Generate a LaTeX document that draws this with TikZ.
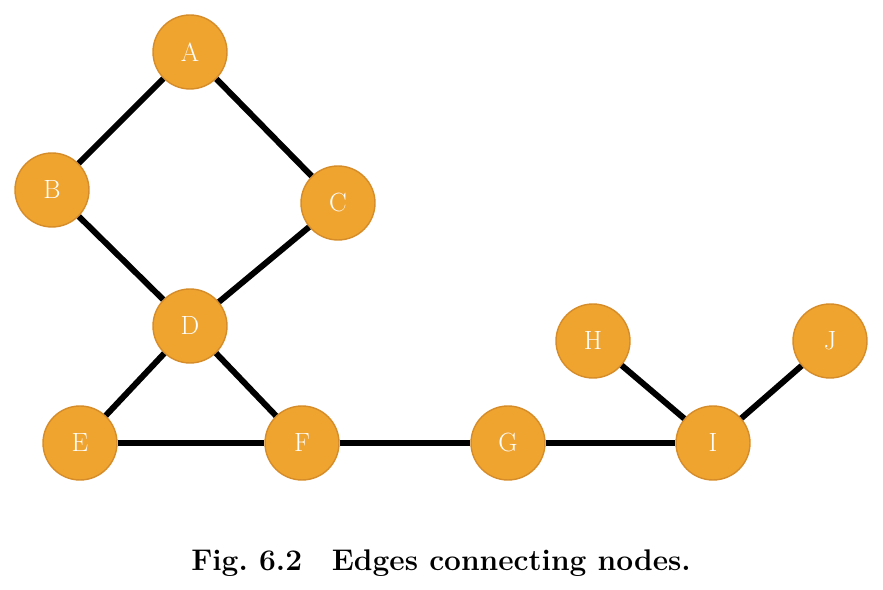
\documentclass[tikz,border=0pt]{standalone}
\usetikzlibrary{positioning}
\definecolor{nodeorange}{RGB}{240,164,48}
\definecolor{rimorange}{RGB}{214,140,40}
\tikzset{
    vertex/.style = {draw=rimorange, fill=nodeorange, circle, line width=0.8pt,
        minimum size=1.48cm, inner sep=0pt, text=white, font=\fontsize{15}{15}\selectfont},
    edge/.style = {line width=3.4pt, black},
}
\begin{document}
\begin{tikzpicture}[x=0.02cm, y=-0.02cm]
		\useasboundingbox (0,0) rectangle (883,590);
		% upper diamond
		\node [vertex] (A) at (190,52) {A};
		\node [vertex] (B) at (52,190) {B};
		\node [vertex] (C) at (338,203) {C};
		\node [vertex] (D) at (190,326) {D};
		% bottom row
		\node [vertex] (E) at (80,443) {E};
		\node [vertex] (F) at (302,443) {F};
		\node [vertex] (G) at (508,443) {G};
		\node [vertex] (I) at (713,443) {I};
		% right branch
		\node [vertex] (H) at (593,341) {H};
		\node [vertex] (J) at (830,341) {J};
		% caption
		\node [font=\fontsize{17}{17}\selectfont\bfseries] (caption) at (441,563) {Fig.\ 6.2\quad Edges connecting nodes.};
		% connecting lines
		\foreach \a/\b in {A/B, A/C, B/D, C/D, D/E, D/F, E/F, F/G, G/I, H/I, I/J}
			\draw [edge] (\a) -- (\b);
\end{tikzpicture}
\end{document}
